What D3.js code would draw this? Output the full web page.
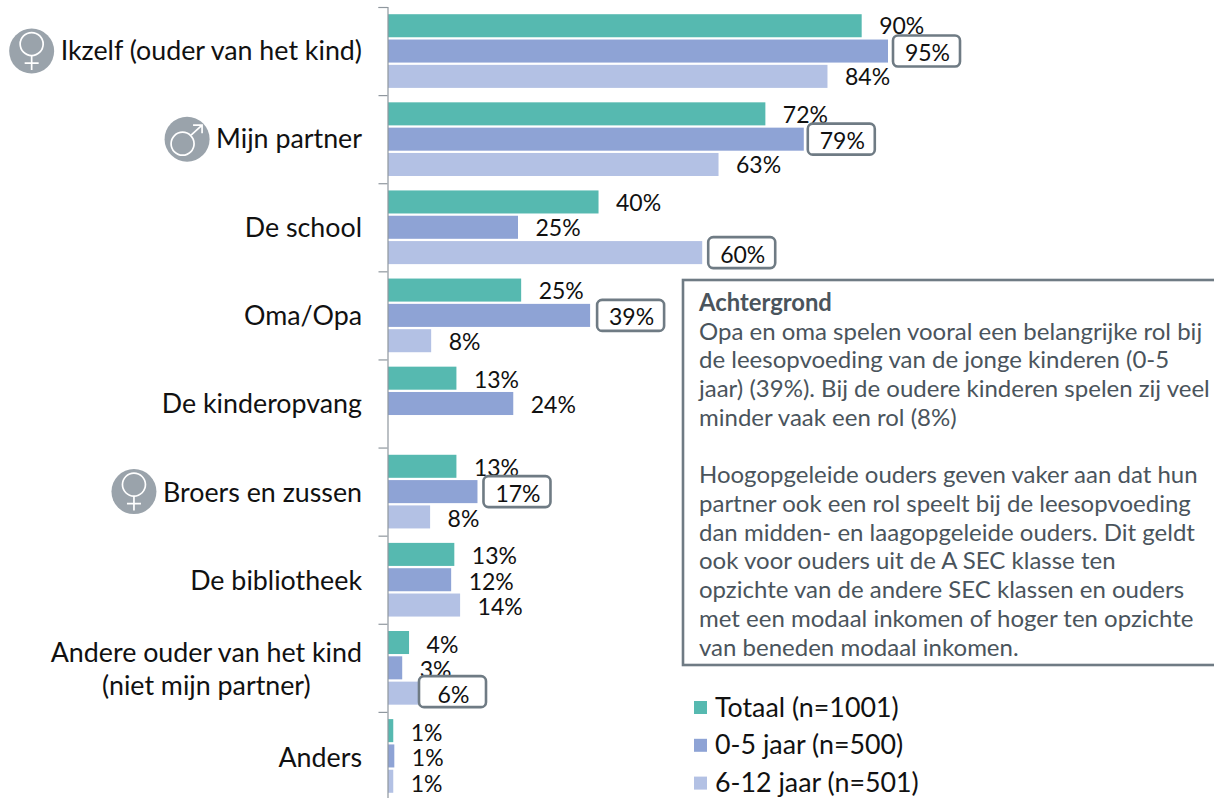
<!DOCTYPE html>
<html><head><meta charset="utf-8">
<script src="https://cdn.jsdelivr.net/npm/d3@7/dist/d3.min.js"></script>
<style>html,body{margin:0;padding:0;background:#fff;overflow:hidden}svg{display:block}text{font-family:Lato,sans-serif}</style>
</head><body><svg id="c" width="1214" height="798"></svg>
<script>
const categories=[["Ikzelf (ouder van het kind)"],["Mijn partner"],["De school"],["Oma/Opa"],["De kinderopvang"],["Broers en zussen"],["De bibliotheek"],["Andere ouder van het kind","(niet mijn partner)"],["Anders"]];
const icons=["f","m",null,null,null,"f",null,null,null];
const seriesNames=["Totaal (n=1001)","0-5 jaar (n=500)","6-12 jaar (n=501)"];
const colors=["#56b9b0","#8ea3d5","#b3c1e4"];
const totaal=[90,71.7,40,25.3,13,13,12.6,4,1];
const jong=[95,79,24.7,38.4,23.8,17,12,2.7,1.2];
const oud=[83.5,62.8,59.7,8.2,null,8,13.7,5.7,1];
const labelsTotaal=[90,72,40,25,13,13,13,4,1];
const labelsJong=[95,79,25,39,24,17,12,3,1];
const labelsOud=[84,63,60,8,null,8,14,6,1];
const highlighted=[[1,0],[1,1],[2,2],[1,3],[1,5],[2,7]];
const noteTitle="Achtergrond";
const noteLines=["Opa en oma spelen vooral een belangrijke rol bij","de leesopvoeding van de jonge kinderen (0-5","jaar) (39%). Bij de oudere kinderen spelen zij veel","minder vaak een rol (8%)","","Hoogopgeleide ouders geven vaker aan dat hun","partner ook een rol speelt bij de leesopvoeding","dan midden- en laagopgeleide ouders. Dit geldt","ook voor ouders uit de A SEC klasse ten","opzichte van de andere SEC klassen en ouders","met een modaal inkomen of hoger ten opzichte","van beneden modaal inkomen."];

const svg=d3.select("#c");
const values=[totaal,jong,oud], labels=[labelsTotaal,labelsJong,labelsOud];
const idx=d3.range(categories.length);
const x=d3.scaleLinear().domain([0,95]).range([388,888]);
const y=d3.scaleBand().domain(idx).range([7,800]);
const yText=d3.scaleBand().domain(idx).range([7,802]);
const yEdge=d3.scaleLinear().domain([0,categories.length]).range([7,800]);
const inner=d3.scaleBand().domain([0,1,2]).range([0,y.bandwidth()]).paddingInner(.09).paddingOuter(.285);

const rows=[];
values.forEach((arr,s)=>arr.forEach((v,c)=>{if(v!=null)rows.push({s,c,v,label:labels[s][c]});}));
const mid=d=>y(d.c)+inner(d.s)+inner.bandwidth()/2;

svg.append("g").selectAll("rect").data(rows).join("rect")
 .attr("x",x(0)).attr("y",d=>y(d.c)+inner(d.s)).attr("width",d=>x(d.v)-x(0)).attr("height",inner.bandwidth())
 .attr("fill",d=>colors[d.s]);

const axis=svg.append("g").attr("transform","translate(387.5,0)")
 .call(d3.axisLeft(yEdge).tickValues(d3.range(categories.length+1)).tickSize(9).tickFormat(""));
axis.selectAll("path,line").attr("stroke","#8f979e").attr("stroke-width",1.2);

const labelSize=23;
svg.append("g").selectAll("text").data(rows).join("text")
 .attr("x",d=>x(d.v)+17.5).attr("y",d=>yText(d.c)+inner(d.s)+inner.bandwidth()/2+8.7).attr("font-size",labelSize).attr("fill","#111")
 .text(d=>d.label+"%");

const gap=d=>d.c===7?1:d.c===1?4:d.c===0?5:d.c===3?7:6;
const isHi=d=>highlighted.some(h=>h[0]===d.s&&h[1]===d.c);
const hi=svg.append("g").selectAll("g").data(rows.filter(isHi)).join("g");
hi.append("rect").attr("x",d=>x(d.v)+gap(d)).attr("y",d=>mid(d)-15.5-(d.c===7?1.5:0)).attr("width",67).attr("height",31).attr("rx",5)
 .attr("fill","#fff").attr("stroke","#6f7b84").attr("stroke-width",2.6);
hi.append("text").attr("x",d=>x(d.v)+gap(d)+34.5).attr("y",d=>mid(d)+10).attr("text-anchor","middle")
 .attr("font-size",labelSize).attr("fill","#111").text(d=>d.label+"%");

const cat=svg.append("g").selectAll("g").data(idx).join("g");
const catText=cat.append("text").attr("font-size",26.8).attr("fill","#111").attr("text-anchor","end")
 .attr("y",c=>yText(c)+yText.bandwidth()/2+8.7);
catText.selectAll("tspan").data(c=>categories[c].map((t,i,a)=>({t,i,n:a.length}))).join("tspan")
 .attr("x",362).attr("dy",d=>d.n>1?(d.i===0?-16.5:33):0).text(d=>d.t);
catText.each(function(){
 const spans=d3.select(this).selectAll("tspan").nodes();
 if(spans.length>1){
  const w=spans[0].getComputedTextLength();
  d3.select(spans[1]).attr("text-anchor","middle").attr("x",362-w/2);
 }
});

cat.each(function(c){
 if(!icons[c])return;
 const g=d3.select(this);
 const w=g.select("text").node().getComputedTextLength();
 const cx=362-w-29, cy=y(c)+y.bandwidth()/2;
 const ic=g.append("g").attr("transform",`translate(${cx},${cy})`);
 ic.append("circle").attr("r",22.5).attr("fill","#9aa3ab");
 const st=sel=>sel.attr("fill","none").attr("stroke","#fff").attr("stroke-width",1.7);
 if(icons[c]==="f"){
  ic.append("circle").attr("cy",-7).attr("r",11.5).call(st);
  ic.append("path").attr("d","M0,4.5V19M-7,12H7").call(st);
 }else{
  ic.append("circle").attr("cx",-4.5).attr("cy",4.5).attr("r",11.5).call(st);
  ic.append("path").attr("d","M4,-4L15,-14M6,-14H15V-6").call(st);
 }
});

const note=svg.append("g");
note.append("rect").attr("x",683).attr("y",280).attr("width",560).attr("height",385)
 .attr("fill","#fff").attr("stroke","#6f7b84").attr("stroke-width",2.6);
const lineY=d3.scaleLinear().domain([0,12]).range([311,655.5]);
note.append("text").attr("x",699).attr("y",lineY(0)).attr("font-size",23.8).attr("font-weight",700).attr("fill","#4a545c").text(noteTitle);
note.selectAll("text.l").data(noteLines).join("text").attr("class","l")
 .attr("x",699).attr("y",(d,i)=>lineY(i+1)).attr("font-size",24).attr("fill","#4a545c").text(d=>d);

const lg=svg.append("g").selectAll("g").data(seriesNames).join("g")
 .attr("transform",(d,i)=>`translate(0,${707.5+i*37.8})`);
lg.append("rect").attr("x",694).attr("y",-6.5).attr("width",13).attr("height",13).attr("fill",(d,i)=>colors[i]);
lg.append("text").attr("x",715).attr("y",9).attr("font-size",26.8).attr("fill","#111").text(d=>d);
</script></body></html>
